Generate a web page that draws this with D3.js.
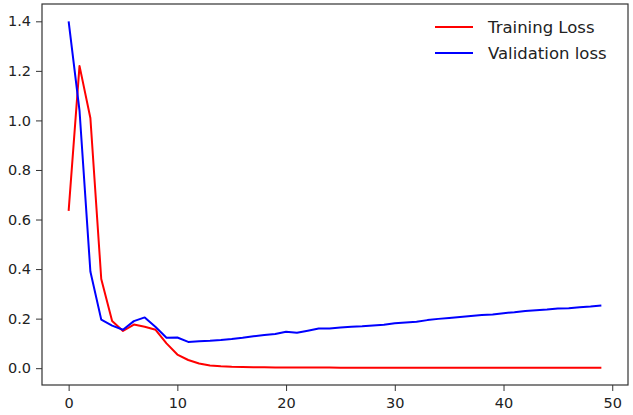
<!DOCTYPE html>
<html>
<head>
<meta charset="utf-8">
<script src="https://cdn.jsdelivr.net/npm/d3@7"></script>
<style>
  body { margin: 0; background: #fff; }
  text { font-family: "DejaVu Sans", sans-serif; fill: #222; }
</style>
</head>
<body>
<div id="chart"></div>
<script>
const epochs = d3.range(50);

const trainingLoss = [
  0.635, 1.22, 1.01, 0.36, 0.19, 0.15, 0.176, 0.167, 0.155, 0.10,
  0.055, 0.033, 0.019, 0.011, 0.008, 0.006, 0.005, 0.004, 0.004, 0.003,
  0.003, 0.003, 0.003, 0.003, 0.003, 0.002, 0.002, 0.002, 0.002, 0.002,
  0.002, 0.002, 0.002, 0.002, 0.002, 0.002, 0.002, 0.002, 0.002, 0.002,
  0.002, 0.002, 0.002, 0.002, 0.002, 0.002, 0.002, 0.002, 0.002, 0.002
];

const validationLoss = [
  1.40, 1.04, 0.39, 0.196, 0.172, 0.155, 0.19, 0.205, 0.166, 0.123,
  0.124, 0.106, 0.109, 0.111, 0.114, 0.118, 0.123, 0.129, 0.134, 0.138,
  0.147, 0.143, 0.151, 0.160, 0.160, 0.164, 0.167, 0.169, 0.172, 0.175,
  0.181, 0.184, 0.187, 0.194, 0.199, 0.203, 0.207, 0.211, 0.215, 0.217,
  0.222, 0.226, 0.231, 0.234, 0.237, 0.241, 0.242, 0.246, 0.249, 0.253
];

const xTicks = [0, 10, 20, 30, 40, 50];
const yTicks = [0.0, 0.2, 0.4, 0.6, 0.8, 1.0, 1.2, 1.4];

const seriesNames = ['Training Loss', 'Validation loss'];
const seriesColors = ['#ff0000', '#0000ff'];

const width = 633;
const height = 415;
const margin = {top: 4, right: 5, bottom: 30, left: 42};

const svg = d3.select('#chart')
  .append('svg')
  .attr('width', width)
  .attr('height', height);

// matplotlib style 5% margins
const xPad = 49 * 0.05;
const yMin = d3.min(trainingLoss.concat(validationLoss));
const yMax = d3.max(trainingLoss.concat(validationLoss));
const yPad = (yMax - yMin) * 0.05;

const x = d3.scaleLinear()
  .domain([-xPad, 49 + xPad])
  .range([margin.left, width - margin.right]);

const y = d3.scaleLinear()
  .domain([yMin - yPad, yMax + yPad])
  .range([height - margin.bottom, margin.top]);

// X axis
const xAxis = svg.append('g')
  .attr('transform', `translate(0,${height - margin.bottom})`)
  .call(d3.axisBottom(x).tickValues(xTicks).tickSize(6).tickPadding(7).tickFormat(d3.format('d')));

// Y axis
const yAxis = svg.append('g')
  .attr('transform', `translate(${margin.left},0)`)
  .call(d3.axisLeft(y).tickValues(yTicks).tickSize(6).tickPadding(5).tickFormat(d3.format('.1f')));

[xAxis, yAxis].forEach((g) => {
  g.select('.domain').remove();
  g.selectAll('line').attr('stroke', '#333').attr('stroke-width', 1);
  g.selectAll('text').style('font-size', '14.5px').style('fill', '#222').attr('font-family', null);
});

// frame
svg.append('rect')
  .attr('x', margin.left)
  .attr('y', margin.top)
  .attr('width', width - margin.right - margin.left)
  .attr('height', height - margin.bottom - margin.top)
  .attr('fill', 'none')
  .attr('stroke', '#333')
  .attr('stroke-width', 1.2);

const line = (vals) => d3.line()
  .x((d, i) => x(epochs[i]))
  .y((d) => y(d))(vals);

[trainingLoss, validationLoss].forEach((vals, i) => {
  svg.append('path')
    .attr('d', line(vals))
    .attr('fill', 'none')
    .attr('stroke', seriesColors[i])
    .attr('stroke-width', 2)
    .attr('stroke-linejoin', 'round');
});

// Legend
const legend = svg.append('g').attr('transform', 'translate(435,27)');
seriesNames.forEach((name, i) => {
  const row = legend.append('g').attr('transform', `translate(0,${i * 26})`);
  row.append('line')
    .attr('x1', 0).attr('x2', 38)
    .attr('y1', 0).attr('y2', 0)
    .attr('stroke', seriesColors[i])
    .attr('stroke-width', 2);
  row.append('text')
    .attr('x', 53)
    .attr('y', 6)
    .style('font-size', '16.5px')
    .text(name);
});
</script>
</body>
</html>
